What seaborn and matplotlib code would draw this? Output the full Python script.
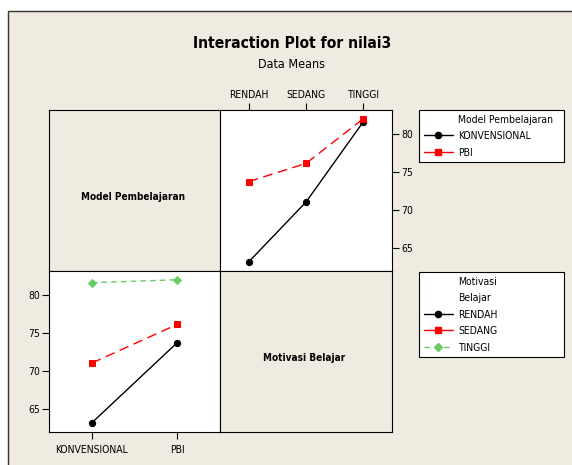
import numpy as np
import pandas as pd
import matplotlib
matplotlib.use("Agg")
import matplotlib.pyplot as plt
from matplotlib.lines import Line2D
from matplotlib.patches import Rectangle
import seaborn as sns

#%% Data: rata-rata nilai3 per sel

model = ["KONVENSIONAL", "PBI"]
motivasi = ["RENDAH", "SEDANG", "TINGGI"]
mean_konv = [63.1, 71.0, 81.6]   # KONVENSIONAL x RENDAH/SEDANG/TINGGI
mean_pbi = [73.7, 76.1, 82.0]    # PBI x RENDAH/SEDANG/TINGGI
y_ticks = [65, 70, 75, 80]

df = pd.DataFrame({
    "Model": np.repeat(model, len(motivasi)),
    "Motivasi": motivasi * len(model),
    "nilai3": mean_konv + mean_pbi,
})

#%% Styles

sns.set_style("white")
plt.rcParams["font.family"] = ["DejaVu Sans"]
plt.rcParams["font.stretch"] = "condensed"
plt.rcParams["text.color"] = "black"

W, H = 572, 465
BG = "#EFEBE1"
GREEN = "#66CC66"
col_model = {"KONVENSIONAL": "black", "PBI": "red"}
col_mot = {"RENDAH": "black", "SEDANG": "red", "TINGGI": GREEN}
dash_red = (0, (7, 4))
dash_green = (0, (4, 3))

fig = plt.figure(figsize=(W / 100, H / 100), dpi=100)
fig.patch.set_facecolor("white")
fig.patches.append(Rectangle((8 / W, -0.1), 1.2, 1 - 11 / H + 0.1, transform=fig.transFigure,
                             facecolor=BG, edgecolor="#333333", lw=1, zorder=-10))

def box(x0, y0, x1, y1):
    return [x0 / W, 1 - y1 / H, (x1 - x0) / W, (y1 - y0) / H]

x0, xm, x1 = 49, 220, 392
y0, ym, y1 = 110, 271, 432
ylim = (61.9, 83.15)

ax_tl = fig.add_axes(box(x0, y0, xm, ym))
ax_tr = fig.add_axes(box(xm, y0, x1, ym))
ax_bl = fig.add_axes(box(x0, ym, xm, y1))
ax_br = fig.add_axes(box(xm, ym, x1, y1))

for ax in (ax_tl, ax_tr, ax_bl, ax_br):
    for s in ax.spines.values():
        s.set_color("black")
        s.set_linewidth(0.8)

for ax, txt, yc in ((ax_tl, "Model Pembelajaran", 0.46), (ax_br, "Motivasi Belajar", 0.46)):
    ax.set_facecolor(BG)
    ax.set_xticks([])
    ax.set_yticks([])
    ax.text(0.49, yc, txt, transform=ax.transAxes, ha="center", va="center",
            fontsize=7.2, fontweight="bold")

#%% Model Pembelajaran terhadap Motivasi (kanan atas)

sns.pointplot(data=df, x="Motivasi", y="nilai3", hue="Model", order=motivasi, hue_order=model,
              palette=col_model, markers=["o", "s"], linestyles=["-", dash_red],
              errorbar=None, markersize=4.5, linewidth=1, legend=False, ax=ax_tr)

#%% Motivasi terhadap Model Pembelajaran (kiri bawah)

sns.pointplot(data=df, x="Model", y="nilai3", hue="Motivasi", order=model, hue_order=motivasi,
              palette=col_mot, markers=["o", "s", "D"], linestyles=["-", dash_red, dash_green],
              errorbar=None, markersize=4.5, linewidth=1, legend=False, ax=ax_bl)

for ax, n in ((ax_tr, len(motivasi)), (ax_bl, len(model))):
    ax.set_facecolor("white")
    ax.set_xlim(-0.5, n - 0.5)
    ax.set_ylim(*ylim)
    ax.set_yticks(y_ticks)
    ax.set_xlabel("")
    ax.set_ylabel("")
    ax.tick_params(length=5, width=0.8, labelsize=7.5, pad=1.5, direction="out",
                   colors="black")

ax_tr.xaxis.tick_top()
ax_tr.yaxis.tick_right()
ax_bl.xaxis.tick_bottom()
ax_bl.yaxis.tick_left()
ax_bl.tick_params(axis="x", pad=4)
ax_tr.tick_params(axis="x", pad=2)

#%% Judul

fig.text(292 / W, 1 - 44 / H, "Interaction Plot for nilai3", ha="center", va="center",
         fontsize=11.2, fontweight="bold")
fig.text(292 / W, 1 - 64 / H, "Data Means", ha="center", va="center", fontsize=9)

#%% Legenda

def blank(label):
    return Line2D([], [], linestyle="none", label=label)

h_model = [blank("Model Pembelajaran"),
           Line2D([], [], color="black", marker="o", ms=4.5, lw=1, label="KONVENSIONAL"),
           Line2D([], [], color="red", marker="s", ms=4.5, lw=1, label="PBI")]
h_mot = [blank("Motivasi"), blank("Belajar"),
         Line2D([], [], color="black", marker="o", ms=4.5, lw=1, label="RENDAH"),
         Line2D([], [], color="red", marker="s", ms=4.5, lw=1, label="SEDANG"),
         Line2D([], [], color=GREEN, marker="D", ms=4.5, lw=1, ls=dash_green, label="TINGGI")]

for hs, top in ((h_model, 110), (h_mot, 272)):
    leg = fig.legend(handles=hs, loc="upper left", mode="expand",
                     bbox_to_anchor=(419 / W, 1 - top / H - 0.01, 145 / W, 0.01),
                     fontsize=7.5, handlelength=2.8, handletextpad=0.5, labelspacing=0.62,
                     borderpad=0.45, borderaxespad=0, fancybox=False, framealpha=1)
    leg.get_frame().set_edgecolor("black")
    leg.get_frame().set_linewidth(0.8)

fig.savefig("out.png", dpi=100)
